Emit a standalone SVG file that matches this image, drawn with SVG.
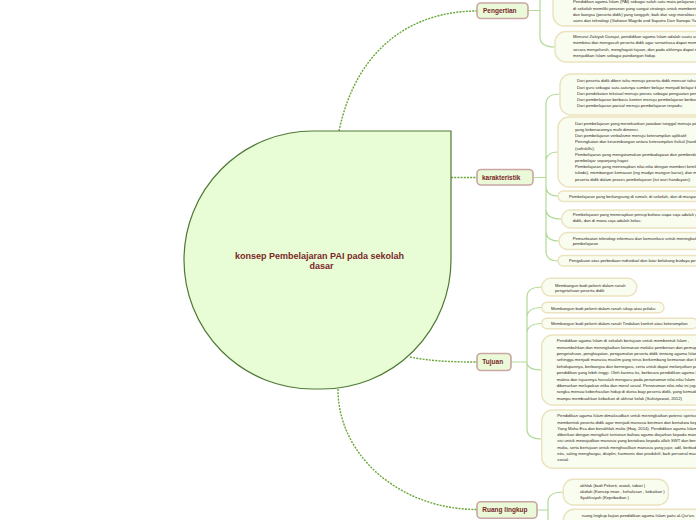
<svg xmlns="http://www.w3.org/2000/svg" width="696" height="520" viewBox="0 0 696 520">
<style>
.root{fill:#e8fcd6;stroke:#4f7a35;stroke-width:1.2}
.topic rect{fill:#eafad8;stroke:#c9a6a2;stroke-width:1.6}
.tt{font-family:"Liberation Sans",Arial,sans-serif;font-weight:bold;font-size:6.5px;fill:#7a2828}
.rt{font-family:"Liberation Sans",Arial,sans-serif;font-weight:bold;font-size:9px;fill:#7a2828}
.leaf rect{fill:#f8fdef;stroke:#ebe2bf;stroke-width:1.4}
.lt{font-family:"Liberation Sans",Arial,sans-serif;font-size:4.2px;fill:#33261f}
.dot{fill:none;stroke:#68a736;stroke-width:1.4;stroke-dasharray:2 1.2}
.sol{fill:none;stroke:#b2da96;stroke-width:1.2}
</style>
<rect width="696" height="520" fill="#ffffff"/>
<g id="connectors">
  <path class="dot" d="M339,131 C357,45 415,11 477,11"/>
  <path class="dot" d="M451,177.5 H477"/>
  <path class="dot" d="M410,357 C430,361 450,362 477,362"/>
  <path class="dot" d="M338,389 A139,120 0 0 0 477,509.5"/>
  <path class="sol" d="M528,10.5 H540 M540,10.5 V3 Q540,-7 553,-7 M540,10.5 V37 Q540,47 555,47"/>
  <path class="sol" d="M533,177.5 H546 M546,177.5 V104 Q546,94 560,94 M546,177.5 V162 Q546,152 558,152 M546,177.5 V186 Q546,196 558,196 M546,177.5 V209 Q546,219 561.5,219 M546,177.5 V231 Q546,241 559,241 M546,177.5 V251 Q546,261 558,261"/>
  <path class="sol" d="M511,362 H527 M527,362 V297 Q527,287 542,287 M527,362 V317.5 Q527,307.5 542,307.5 M527,362 V333.5 Q527,323.5 542,323.5 M527,362 Q527,370 542,370 M527,362 V429 Q527,439 542,439"/>
  <path class="sol" d="M537,510 H548 M548,510 V502 Q548,492 563.5,492 M548,510 V525 Q548,535 563.5,535"/>
</g>
<g id="root">
  <path class="root" d="M451,131 H313 A129,129 0 0 0 184,260 A129,129 0 0 0 313,389 H322 A129,129 0 0 0 451,260 Z"/>
  <text class="rt" x="235" y="259" textLength="169" lengthAdjust="spacingAndGlyphs">konsep Pembelajaran PAI pada sekolah</text>
  <text class="rt" x="309.5" y="269" textLength="24" lengthAdjust="spacingAndGlyphs">dasar</text>
</g>
<g id="pengertian" class="topic">
  <rect x="477" y="3" width="51" height="15.5" rx="4"/>
  <text class="tt" x="483" y="13">Pengertian</text>
</g>
<g id="pengertian-1" class="leaf">
  <rect x="553" y="-40" width="170" height="66" rx="11"/>
  <text class="lt" x="573" y="3.3">Pendidikan agama Islam (PAI) sebagai salah satu mata pelajaran yang wajib diajarkan</text>
  <text class="lt" x="573" y="9.6">di sekolah memiliki peranan yang sangat strategis untuk membentuk generasi penerus</text>
  <text class="lt" x="573" y="15.9">dan bangsa (peserta didik) yang tangguh; baik dari segi moralitas maupun intelektualitas,</text>
  <text class="lt" x="573" y="22.2">sains dan teknologi (Gahwan Magribi and Saputra Dan Sanopa Yani, 2019)</text>
</g>
<g id="pengertian-2" class="leaf">
  <rect x="555" y="31.5" width="170" height="30.5" rx="11"/>
  <text class="lt" x="573" y="38">Menurut Zakiyah Darajat, pendidikan agama Islam adalah suatu usaha untuk</text>
  <text class="lt" x="573" y="44.3">membina dan mengasuh peserta didik agar senantiasa dapat memahami ajaran Islam</text>
  <text class="lt" x="573" y="50.6">secara menyeluruh, menghayati tujuan, dan pada akhirnya dapat mengamalkan serta</text>
  <text class="lt" x="573" y="56.9">menjadikan Islam sebagai pandangan hidup.</text>
</g>
<g id="karakteristik" class="topic">
  <rect x="477" y="169.5" width="56" height="15.5" rx="4"/>
  <text class="tt" x="482" y="179.7">karakteristik</text>
</g>
<g id="karakteristik-1" class="leaf">
  <rect x="560" y="74" width="170" height="41" rx="11"/>
  <text class="lt" x="577" y="82.2">Dari peserta didik diberi tahu menuju peserta didik mencari tahu;</text>
  <text class="lt" x="577" y="88.5">Dari guru sebagai satu-satunya sumber belajar menjadi belajar berbasis aneka sumber belajar;</text>
  <text class="lt" x="577" y="94.8">Dari pendekatan tekstual menuju proses sebagai penguatan penggunaan pendekatan ilmiah;</text>
  <text class="lt" x="577" y="101.1">Dari pembelajaran berbasis konten menuju pembelajaran berbasis kompetensi;</text>
  <text class="lt" x="577" y="107.4">Dari pembelajaran parsial menuju pembelajaran terpadu;</text>
</g>
<g id="karakteristik-2" class="leaf">
  <rect x="558" y="117" width="170" height="70" rx="11"/>
  <text class="lt" x="575" y="124.8">Dari pembelajaran yang menekankan jawaban tunggal menuju pembelajaran dengan jawaban</text>
  <text class="lt" x="575" y="131">yang kebenarannya multi dimensi;</text>
  <text class="lt" x="575" y="137.2">Dari pembelajaran verbalisme menuju keterampilan aplikatif;</text>
  <text class="lt" x="575" y="143.4">Peningkatan dan keseimbangan antara keterampilan fisikal (hardskills) dan keterampilan mental</text>
  <text class="lt" x="575" y="149.6">(softskills);</text>
  <text class="lt" x="575" y="155.8">Pembelajaran yang mengutamakan pembudayaan dan pemberdayaan peserta didik sebagai</text>
  <text class="lt" x="575" y="162">pembelajar sepanjang hayat;</text>
  <text class="lt" x="575" y="168.2">Pembelajaran yang menerapkan nilai-nilai dengan memberi keteladanan (ing ngarso sung</text>
  <text class="lt" x="575" y="174.4">tulodo), membangun kemauan (ing madyo mangun karso), dan mengembangkan kreativitas</text>
  <text class="lt" x="575" y="180.6">peserta didik dalam proses pembelajaran (tut wuri handayani);</text>
</g>
<g id="karakteristik-3" class="leaf">
  <rect x="558" y="191" width="170" height="10.5" rx="5.2"/>
  <text class="lt" x="569" y="197.9">Pembelajaran yang berlangsung di rumah, di sekolah, dan di masyarakat;</text>
</g>
<g id="karakteristik-4" class="leaf">
  <rect x="561.5" y="210" width="170" height="18" rx="9"/>
  <text class="lt" x="572.7" y="216">Pembelajaran yang menerapkan prinsip bahwa siapa saja adalah guru, siapa saja adalah peserta</text>
  <text class="lt" x="572.7" y="222">didik, dan di mana saja adalah kelas;</text>
</g>
<g id="karakteristik-5" class="leaf">
  <rect x="559" y="232.5" width="170" height="17" rx="8.5"/>
  <text class="lt" x="572.7" y="239.7">Pemanfaatan teknologi informasi dan komunikasi untuk meningkatkan efisiensi dan efektivitas</text>
  <text class="lt" x="572.7" y="245.3">pembelajaran</text>
</g>
<g id="karakteristik-6" class="leaf">
  <rect x="558" y="255.5" width="170" height="10.5" rx="5.2"/>
  <text class="lt" x="569" y="262.4">Pengakuan atas perbedaan individual dan latar belakang budaya peserta didik.</text>
</g>
<g id="tujuan" class="topic">
  <rect x="477" y="353.5" width="34" height="17" rx="4"/>
  <text class="tt" x="482.3" y="364.4">Tujuan</text>
</g>
<g id="tujuan-1" class="leaf">
  <rect x="541.7" y="278.3" width="95" height="17.7" rx="8.8"/>
  <text class="lt" x="555" y="286.5">Membangun budi pekerti dalam ranah</text>
  <text class="lt" x="555" y="292.2">pengetahuan peserta didik</text>
</g>
<g id="tujuan-2" class="leaf">
  <rect x="541.7" y="302.3" width="122.3" height="10.4" rx="5.2"/>
  <text class="lt" x="551" y="309.8">Membangun budi pekerti dalam ranah sikap atau prilaku</text>
</g>
<g id="tujuan-3" class="leaf">
  <rect x="541.7" y="318.3" width="156" height="10.4" rx="5.2"/>
  <text class="lt" x="551" y="325.2">Membangun budi pekerti dalam ranah Tindakan konkrit atau keterampilan</text>
</g>
<g id="tujuan-4" class="leaf">
  <rect x="541.7" y="335" width="180" height="70" rx="11"/>
  <text class="lt" x="556.7" y="342.2">Pendidikan agama Islam di sekolah bertujuan untuk membentuk Islam ,</text>
  <text class="lt" x="556.7" y="348.6">menumbuhkan dan meningkatkan keimanan melalui pemberian dan pemupukan</text>
  <text class="lt" x="556.7" y="355">pengetahuan, penghayatan, pengamalan peserta didik tentang agama Islam sehingga</text>
  <text class="lt" x="556.7" y="361.4">sehingga menjadi manusia muslim yang terus berkembang keimanan dan ketakwaannya</text>
  <text class="lt" x="556.7" y="367.8">kehidupannya, berbangsa dan bernegara, serta untuk dapat melanjutkan pada jenjang</text>
  <text class="lt" x="556.7" y="374.2">pendidikan yang lebih tinggi. Oleh karena itu, berbicara pendidikan agama Islam, baik</text>
  <text class="lt" x="556.7" y="380.6">makna dan tujuannya haruslah mengacu pada penanaman nilai-nilai Islam dan tidak</text>
  <text class="lt" x="556.7" y="387">dibenarkan melupakan etika dan moral sosial. Penanaman nilai-nilai ini juga dalam</text>
  <text class="lt" x="556.7" y="393.4">rangka menuai keberhasilan hidup di dunia bagi peserta didik, yang kemudian akan</text>
  <text class="lt" x="556.7" y="399.8">mampu membuahkan kebaikan di akhirat kelak (Sulistyowati, 2012)</text>
</g>
<g id="tujuan-5" class="leaf">
  <rect x="541.7" y="410" width="180" height="58.3" rx="11"/>
  <text class="lt" x="557.3" y="417.2">Pendidikan agama Islam dimaksudkan untuk meningkatkan potensi spiritual dan</text>
  <text class="lt" x="557.3" y="423.5">membentuk peserta didik agar menjadi manusia beriman dan bertakwa kepada Tuhan</text>
  <text class="lt" x="557.3" y="429.8">Yang Maha Esa dan berakhlak mulia (Haq, 2014). Pendidikan agama Islam</text>
  <text class="lt" x="557.3" y="436.1">diberikan dengan mengikuti tuntunan bahwa agama diajarkan kepada manusia dengan</text>
  <text class="lt" x="557.3" y="442.4">visi untuk mewujudkan manusia yang bertakwa kepada allah SWT dan berakhlak</text>
  <text class="lt" x="557.3" y="448.7">mulia, serta bertujuan untuk menghasilkan manusia yang jujur, adil, berbudi pekerti,</text>
  <text class="lt" x="557.3" y="455">etis, saling menghargai, disiplin, harmonis dan produktif, baik personal maupun</text>
  <text class="lt" x="557.3" y="461.3">sosial.</text>
</g>
<g id="ruang-lingkup" class="topic">
  <rect x="477" y="501.7" width="60" height="16.6" rx="4"/>
  <text class="tt" x="482.3" y="512.3">Ruang lingkup</text>
</g>
<g id="ruang-lingkup-1" class="leaf">
  <rect x="563.3" y="479.3" width="105" height="25.7" rx="10"/>
  <text class="lt" x="580" y="486.5">akhlak (budi Pekerti, watak, tabiat )</text>
  <text class="lt" x="580" y="493">akidah (Konsep iman , kehalusan , kebaikan )</text>
  <text class="lt" x="580" y="499.3">Syakhsiyah (Kepribadian )</text>
</g>
<g id="ruang-lingkup-2" class="leaf">
  <rect x="563.3" y="509.3" width="170" height="40" rx="11"/>
  <text class="lt" x="581.7" y="516.5">ruang lingkup kajian pendidikan agama Islam yaitu al-Qur'an,</text>
  <text class="lt" x="581.7" y="522.8">hadits, akidah, akhlak, fiqih dan tarikh</text>
</g>
</svg>
